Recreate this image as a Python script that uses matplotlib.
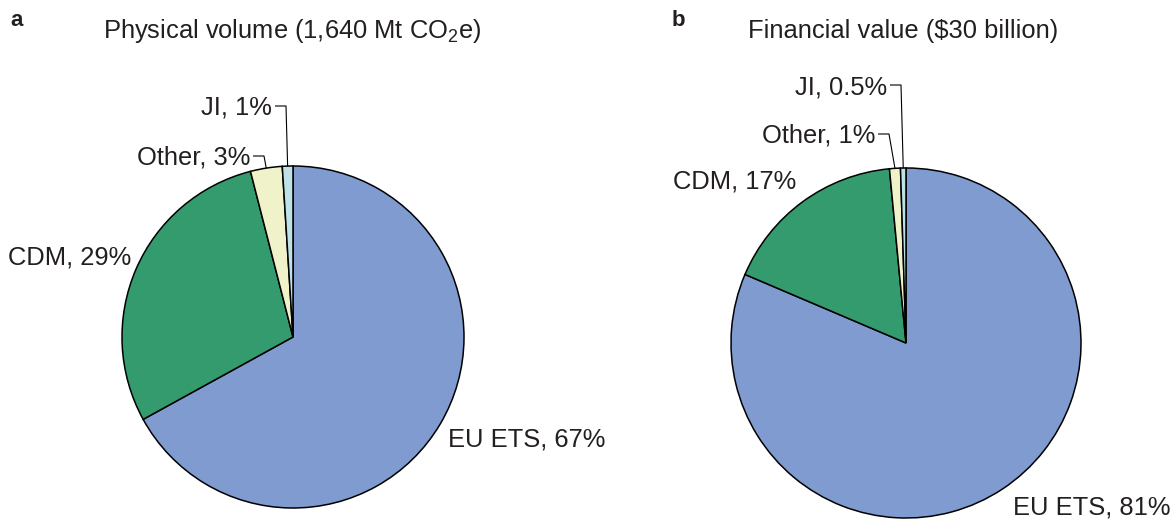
import matplotlib
matplotlib.use("Agg")
import matplotlib.pyplot as plt
import numpy as np

plt.rcParams["font.family"] = ["Liberation Sans", "DejaVu Sans"]
plt.rcParams["mathtext.fontset"] = "custom"
plt.rcParams["mathtext.rm"] = "Liberation Sans"
plt.rcParams["mathtext.it"] = "Liberation Sans:italic"

# Shares of the carbon market by segment
categories = ["EU ETS", "CDM", "Other", "JI"]
volume_share = [67, 29, 3, 1]          # physical volume, %
value_share = [81, 17, 1, 0.5]          # financial value, %
volume_labels = ["EU ETS, 67%", "CDM, 29%", "Other, 3%", "JI, 1%"]
value_labels = ["EU ETS, 81%", "CDM, 17%", "Other, 1%", "JI, 0.5%"]
titles = ["Physical volume (1,640 Mt CO$_2$e)", "Financial value ($30 billion)"]
panel_tags = ["a", "b"]

colors = ["#7F9BD0", "#349B6F", "#F0F3C9", "#BEE2E5"]
TEXT = "#231F20"
FS = 18.4

W, H = 1176, 524
fig = plt.figure(figsize=(W / 100, H / 100), dpi=100)
ax = fig.add_axes([0, 0, 1, 1])


def Y(y):
    """Convert a top-down pixel row into the upward data axis."""
    return H - y


def draw_panel(values, labels, center, radius, label_pos, leaders):
    wedges, _ = ax.pie(values, colors=colors, startangle=90, counterclock=False,
                       center=(center[0], Y(center[1])), radius=radius,
                       wedgeprops=dict(edgecolor="black", linewidth=1.1),
                       frame=True)
    # main labels placed beside the two large slices
    for i in (0, 1):
        x, y, ha = label_pos[i]
        ax.text(x, Y(y), labels[i], ha=ha, va="center", fontsize=FS, color=TEXT)
    # small slices get a text label with an elbow leader line
    for i in (2, 3):
        tx, ty, kx = leaders[i]
        w = wedges[i]
        mid = np.deg2rad((w.theta1 + w.theta2) / 2)
        ex = w.center[0] + w.r * np.cos(mid)
        ey = w.center[1] + w.r * np.sin(mid)
        ax.text(tx, Y(ty), labels[i], ha="right", va="center", fontsize=FS, color=TEXT)
        ax.plot([tx + 3, kx, ex], [Y(ty - 2), Y(ty - 2), ey],
                color="black", linewidth=0.8, solid_capstyle="butt")


draw_panel(volume_share, volume_labels, center=(293, 337), radius=171,
           label_pos={0: (448, 440, "left"), 1: (8, 257, "left")},
           leaders={2: (250, 158, 264), 3: (272, 108, 286)})
draw_panel(value_share, value_labels, center=(906, 343), radius=175,
           label_pos={0: (1013, 508, "left"), 1: (673, 182, "left")},
           leaders={2: (875, 136, 889), 3: (887, 87, 901)})

ax.text(103, Y(31), titles[0], ha="left", va="center", fontsize=FS, color=TEXT)
ax.text(748, Y(31), titles[1], ha="left", va="center", fontsize=FS, color=TEXT)
ax.text(10, Y(20), panel_tags[0], ha="left", va="center", fontsize=16,
        fontweight="bold", color=TEXT)
ax.text(672, Y(20), panel_tags[1], ha="left", va="center", fontsize=16,
        fontweight="bold", color=TEXT)

ax.set_xlim(0, W)
ax.set_ylim(0, H)
ax.set_aspect("auto")
ax.axis("off")

fig.savefig("out.png", dpi=100, facecolor="white")
